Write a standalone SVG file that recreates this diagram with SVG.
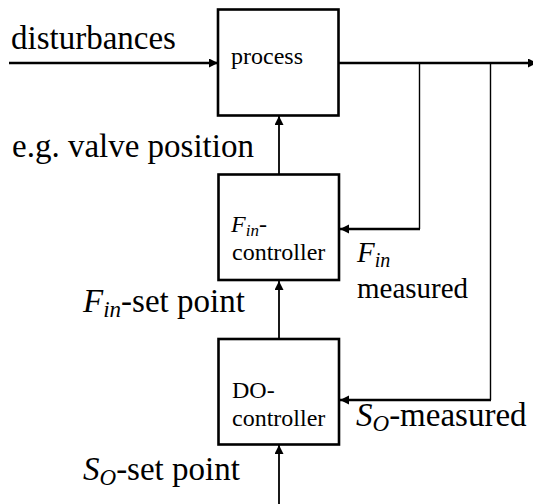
<svg xmlns="http://www.w3.org/2000/svg" width="533" height="504" viewBox="0 0 533 504">
  <style>
    .box { fill: #fff; stroke: #000; stroke-width: 2.6; }
    .lbl { font-family: 'Liberation Serif', 'Times New Roman', Tinos, 'DejaVu Serif', serif; fill: #000; }
    .big { font-size: 33px; }
    .mid { font-size: 29px; }
    .small { font-size: 24px; }
    .it { font-style: italic; }
    .thick { fill: none; stroke: #000; stroke-width: 2.7; }
    .thin { fill: none; stroke: #000; stroke-width: 1.4; }
    .shaft { fill: none; stroke: #000; stroke-width: 1.8; }
  </style>
  <defs>
    <marker id="arrow" markerUnits="userSpaceOnUse" markerWidth="10" markerHeight="10" refX="9" refY="4.5" orient="auto">
      <path d="M0,0 L9,4.5 L0,9 z" fill="#000"/>
    </marker>
  </defs>

  <!-- signal connectors -->
  <g id="connectors">
    <path class="thick" d="M9,63 H218" marker-end="url(#arrow)"/>
    <path class="thick" d="M339,63 H537" marker-end="url(#arrow)"/>
    <path class="thin" d="M419.5,63 V229"/>
    <path class="thick" d="M420,229 H340" marker-end="url(#arrow)"/>
    <path class="thin" d="M490.5,63 V400"/>
    <path class="thick" d="M491,400 H340" marker-end="url(#arrow)"/>
    <path class="shaft" d="M279,174 V116" marker-end="url(#arrow)"/>
    <path class="shaft" d="M279,339 V281" marker-end="url(#arrow)"/>
    <path class="shaft" d="M279,504 V445" marker-end="url(#arrow)"/>
  </g>

  <!-- blocks -->
  <g id="process">
    <rect class="box" x="218" y="9.5" width="120.5" height="106"/>
    <text class="lbl small" x="231" y="64">process</text>
  </g>
  <g id="fin-controller">
    <rect class="box" x="218.5" y="174.5" width="120.5" height="105.5"/>
    <text class="lbl small" x="231" y="232"><tspan class="it">F</tspan><tspan class="it" font-size="17" dy="4">in</tspan><tspan dy="-4">-</tspan></text>
    <text class="lbl small" x="232" y="260">controller</text>
  </g>
  <g id="do-controller">
    <rect class="box" x="218.5" y="339" width="120.5" height="105.5"/>
    <text class="lbl small" x="232" y="398">DO-</text>
    <text class="lbl small" x="232" y="426">controller</text>
  </g>

  <!-- signal labels -->
  <g id="labels">
    <text class="lbl big" x="11" y="49">disturbances</text>
    <text class="lbl big" x="12" y="157">e.g. valve position</text>
    <text class="lbl big" x="83" y="312"><tspan class="it">F</tspan><tspan class="it" font-size="23" dy="5">in</tspan><tspan dy="-5">-set point</tspan></text>
    <text class="lbl mid" x="357" y="262"><tspan class="it">F</tspan><tspan class="it" font-size="20" dy="5">in</tspan></text>
    <text class="lbl mid" x="357" y="298">measured</text>
    <text class="lbl big" x="356" y="426"><tspan class="it">S</tspan><tspan class="it" font-size="23" dy="5">O</tspan><tspan dy="-5">-measured</tspan></text>
    <text class="lbl big" x="83" y="480"><tspan class="it">S</tspan><tspan class="it" font-size="23" dy="5">O</tspan><tspan dy="-5">-set point</tspan></text>
  </g>
</svg>
